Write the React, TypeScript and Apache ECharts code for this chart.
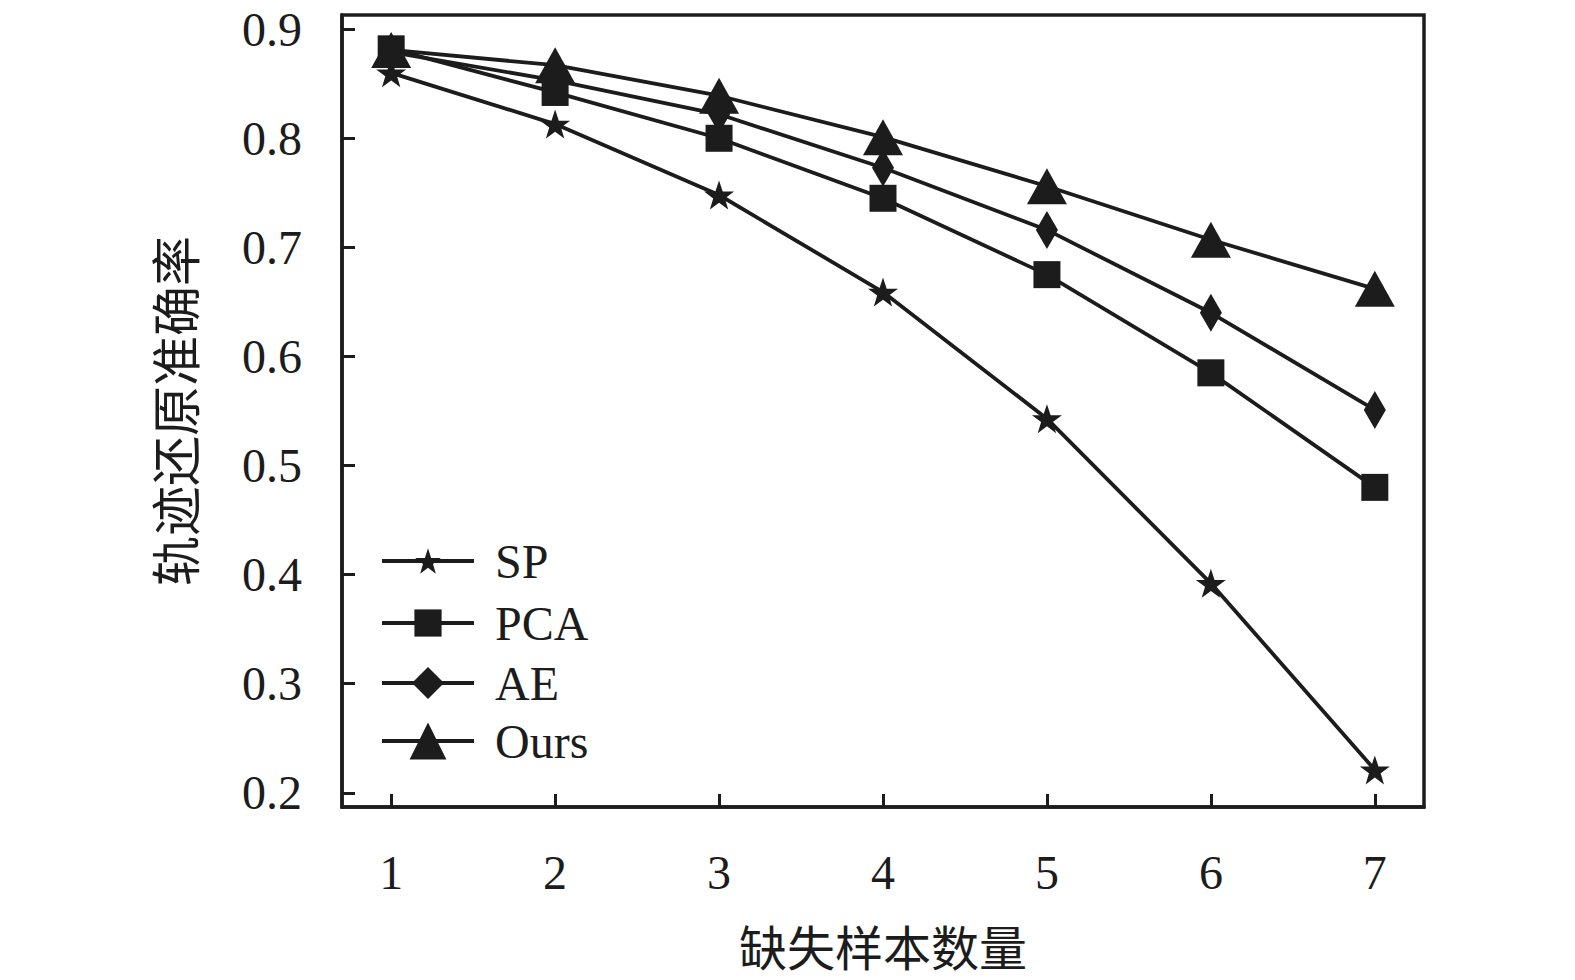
import { useEffect, useRef } from "react";
import * as echarts from "echarts";

const xValues = [1, 2, 3, 4, 5, 6, 7];
const yTicks = [0.2, 0.3, 0.4, 0.5, 0.6, 0.7, 0.8, 0.9];
const seriesNames = ["SP", "PCA", "AE", "Ours"];
const spData = [0.860, 0.813, 0.748, 0.659, 0.543, 0.392, 0.221];
const pcaData = [0.882, 0.842, 0.800, 0.745, 0.675, 0.585, 0.480];
const aeData = [0.879, 0.853, 0.822, 0.773, 0.716, 0.640, 0.551];
const oursData = [0.881, 0.867, 0.839, 0.801, 0.756, 0.707, 0.662];

const STAR =
  "path://M50,0 L61.8,35.1 L98.1,35.1 L68.8,56.7 L79.4,91.6 L50,70 L20.6,91.6 L31.2,56.7 L1.9,35.1 L38.2,35.1 Z";
const INK = "#1c1c1c";
const SERIF = "'Liberation Serif', 'Times New Roman', serif";
const CJK = "'Noto Sans CJK SC', sans-serif";

// legend rows: centre y of each row and icon height (symbol = 0.8 * height)
const legendRowY = [553, 616, 679, 740];
const legendIconH = [32, 34, 40, 46];

export default function App() {
  const chartRef = useRef<HTMLDivElement>(null);

  useEffect(() => {
    if (!chartRef.current) return;
    const chart = echarts.init(chartRef.current, null, { renderer: "svg" });

    const mk = (name: string, vals: number[], symbol: string, size: number[]) => ({
      name,
      type: "line",
      data: xValues.map((x, i) => [x, vals[i]]),
      symbol,
      symbolSize: size,
      lineStyle: { color: INK, width: 3.8 },
      itemStyle: { color: INK },
    });

    const legends = seriesNames.map((name, i) => ({
      orient: "vertical",
      left: 380,
      top: legendRowY[i] - legendIconH[i] / 2,
      padding: 0,
      itemWidth: 92,
      itemHeight: legendIconH[i],
      lineStyle: { width: 4, color: INK },
      textStyle: { fontFamily: SERIF, fontSize: 48, color: INK, padding: [0, 0, 0, 16] },
      data: [name],
    }));

    chart.setOption({
      animation: false,
      backgroundColor: "#fff",
      grid: {
        left: 342,
        right: 151,
        top: 15,
        bottom: 173,
        show: true,
        borderColor: INK,
        borderWidth: 3.5,
      },
      legend: legends,
      xAxis: {
        type: "value",
        min: 0.7,
        max: 7.3,
        name: "缺失样本数量",
        nameLocation: "middle",
        nameGap: 114,
        nameTextStyle: { fontFamily: CJK, fontSize: 48, color: INK },
        axisLine: { show: true, lineStyle: { color: INK, width: 3.5 } },
        axisTick: {
          show: true,
          inside: true,
          length: 13,
          lineStyle: { color: INK, width: 3 },
          customValues: xValues,
        },
        axisLabel: {
          fontFamily: SERIF,
          fontSize: 48,
          color: INK,
          margin: 41,
          customValues: xValues,
        },
        splitLine: { show: false },
      },
      yAxis: {
        type: "value",
        min: 0.187,
        max: 0.913,
        name: "轨迹还原准确率",
        nameLocation: "middle",
        nameGap: 144,
        nameRotate: 90,
        nameTextStyle: { fontFamily: CJK, fontSize: 50, color: INK },
        axisLine: { show: true, lineStyle: { color: INK, width: 3.5 } },
        axisTick: {
          show: true,
          inside: true,
          length: 13,
          lineStyle: { color: INK, width: 3 },
          customValues: yTicks,
        },
        axisLabel: {
          fontFamily: SERIF,
          fontSize: 48,
          color: INK,
          margin: 40,
          customValues: yTicks,
          formatter: (v: number) => v.toFixed(1),
        },
        splitLine: { show: false },
      },
      series: [
        mk("SP", spData, STAR, [30, 29]),
        mk("PCA", pcaData, "rect", [27, 27]),
        mk("AE", aeData, "diamond", [22, 38]),
        mk("Ours", oursData, "triangle", [40, 36]),
      ],
    });

    const handleResize = () => chart.resize();
    window.addEventListener("resize", handleResize);
    return () => {
      window.removeEventListener("resize", handleResize);
      chart.dispose();
    };
  }, []);

  return (
    <div
      ref={chartRef}
      style={{ position: "fixed", left: 0, top: 0, width: "1575px", height: "980px" }}
    />
  );
}
